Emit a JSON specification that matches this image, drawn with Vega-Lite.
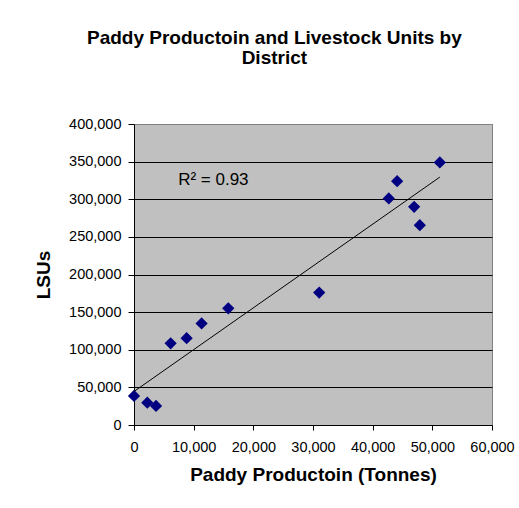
{
  "$schema": "https://vega.github.io/schema/vega-lite/v6.json",
  "width": 358,
  "height": 301,
  "autosize": {"type": "none"},
  "padding": {"left": 134, "top": 124, "right": 27, "bottom": 83},
  "background": "white",
  "title": {
    "text": ["Paddy Productoin and Livestock Units by", "District"],
    "font": "Liberation Sans",
    "fontSize": 19,
    "fontWeight": "bold",
    "color": "black",
    "anchor": "middle",
    "frame": "bounds",
    "lineHeight": 20,
    "offset": 48
  },
  "datasets": {
    "districts": [
      {"production": 0, "lsu": 38600},
      {"production": 2230, "lsu": 29700},
      {"production": 3690, "lsu": 25300},
      {"production": 6140, "lsu": 108600},
      {"production": 8820, "lsu": 115300},
      {"production": 11330, "lsu": 135000},
      {"production": 15800, "lsu": 155000},
      {"production": 31040, "lsu": 176000},
      {"production": 42700, "lsu": 301000},
      {"production": 44100, "lsu": 324000},
      {"production": 46950, "lsu": 290000},
      {"production": 47900, "lsu": 265500},
      {"production": 51260, "lsu": 349000}
    ],
    "fit_label": [
      {"label": "R² = 0.93"}
    ]
  },
  "layer": [
    {
      "data": {"name": "districts"},
      "mark": {
        "type": "point",
        "shape": "diamond",
        "filled": true,
        "color": "#000080",
        "opacity": 1,
        "size": 150
      },
      "encoding": {
        "x": {
          "field": "production",
          "type": "quantitative",
          "scale": {"domain": [0, 60000], "nice": false, "zero": true},
          "axis": {
            "title": "Paddy Productoin (Tonnes)",
            "format": ",d",
            "values": [0, 10000, 20000, 30000, 40000, 50000, 60000],
            "grid": false,
            "labelFlush": false,
            "tickSize": 5,
            "labelPadding": 10,
            "titlePadding": 12
          }
        },
        "y": {
          "field": "lsu",
          "type": "quantitative",
          "scale": {"domain": [0, 400000], "nice": false, "zero": true},
          "axis": {
            "title": "LSUs",
            "format": ",d",
            "values": [0, 50000, 100000, 150000, 200000, 250000, 300000, 350000, 400000],
            "grid": true,
            "gridColor": {"condition": {"test": "datum.value === 400000", "value": "#808080"}, "value": "black"},
            "labelFlush": false,
            "tickSize": 6,
            "labelPadding": 7,
            "titlePadding": 15
          }
        }
      }
    },
    {
      "data": {"name": "districts"},
      "transform": [{"regression": "lsu", "on": "production"}],
      "mark": {"type": "line", "color": "black", "strokeWidth": 1},
      "encoding": {
        "x": {
          "field": "production",
          "type": "quantitative",
          "scale": {"domain": [0, 60000], "nice": false, "zero": true},
          "axis": {
            "title": "Paddy Productoin (Tonnes)",
            "format": ",d",
            "values": [0, 10000, 20000, 30000, 40000, 50000, 60000],
            "grid": false,
            "labelFlush": false,
            "tickSize": 5,
            "labelPadding": 10,
            "titlePadding": 12
          }
        },
        "y": {
          "field": "lsu",
          "type": "quantitative",
          "scale": {"domain": [0, 400000], "nice": false, "zero": true},
          "axis": {
            "title": "LSUs",
            "format": ",d",
            "values": [0, 50000, 100000, 150000, 200000, 250000, 300000, 350000, 400000],
            "grid": true,
            "gridColor": {"condition": {"test": "datum.value === 400000", "value": "#808080"}, "value": "black"},
            "labelFlush": false,
            "tickSize": 6,
            "labelPadding": 7,
            "titlePadding": 15
          }
        }
      }
    },
    {
      "data": {"name": "fit_label"},
      "mark": {
        "type": "text",
        "align": "left",
        "baseline": "middle",
        "font": "Liberation Sans",
        "fontSize": 17,
        "fontWeight": "normal",
        "color": "black"
      },
      "encoding": {
        "x": {
          "datum": 7400,
          "type": "quantitative",
          "scale": {"domain": [0, 60000], "nice": false, "zero": true},
          "axis": {
            "title": "Paddy Productoin (Tonnes)",
            "format": ",d",
            "values": [0, 10000, 20000, 30000, 40000, 50000, 60000],
            "grid": false,
            "labelFlush": false,
            "tickSize": 5,
            "labelPadding": 10,
            "titlePadding": 12
          }
        },
        "y": {
          "datum": 325000,
          "type": "quantitative",
          "scale": {"domain": [0, 400000], "nice": false, "zero": true},
          "axis": {
            "title": "LSUs",
            "format": ",d",
            "values": [0, 50000, 100000, 150000, 200000, 250000, 300000, 350000, 400000],
            "grid": true,
            "gridColor": {"condition": {"test": "datum.value === 400000", "value": "#808080"}, "value": "black"},
            "labelFlush": false,
            "tickSize": 6,
            "labelPadding": 7,
            "titlePadding": 15
          }
        },
        "text": {"field": "label"}
      }
    }
  ],
  "config": {
    "view": {"fill": "#C0C0C0", "stroke": "#808080", "strokeWidth": 1},
    "axis": {
      "domainColor": "black",
      "domainWidth": 1,
      "tickColor": "black",
      "tickWidth": 1,
      "gridWidth": 1,
      "labelFont": "Liberation Sans",
      "labelFontSize": 14.5,
      "labelColor": "black",
      "titleFont": "Liberation Sans",
      "titleFontSize": 19,
      "titleFontWeight": "bold",
      "titleColor": "black"
    }
  }
}
